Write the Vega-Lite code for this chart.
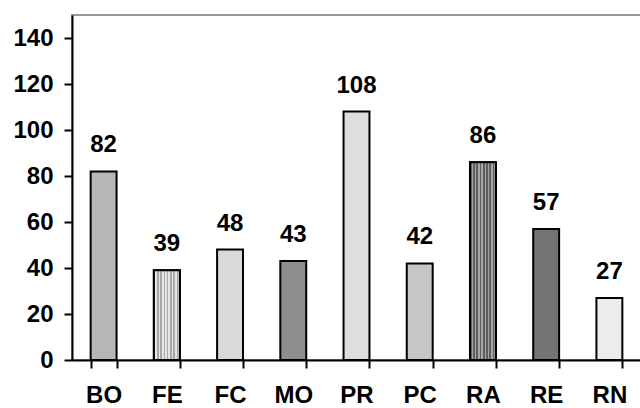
{
  "$schema": "https://vega.github.io/schema/vega-lite/v6.json",
  "autosize": "none",
  "width": 569,
  "height": 345,
  "padding": {"left": 72, "top": 15, "right": 0, "bottom": 48},
  "background": "white",
  "config": {
    "view": {"stroke": "#999999", "strokeWidth": 2},
    "font": "Liberation Sans"
  },
  "data": {
    "values": [
      {"cat": "BO", "value": 82},
      {"cat": "FE", "value": 39},
      {"cat": "FC", "value": 48},
      {"cat": "MO", "value": 43},
      {"cat": "PR", "value": 108},
      {"cat": "PC", "value": 42},
      {"cat": "RA", "value": 86},
      {"cat": "RE", "value": 57},
      {"cat": "RN", "value": 27}
    ]
  },
  "encoding": {
    "x": {
      "field": "cat", "type": "nominal", "sort": null, "title": null,
      "scale": {"paddingInner": 0.59, "paddingOuter": 0.295},
      "axis": {
        "labelAngle": 0, "labelFont": "Liberation Sans", "labelFontSize": 24, "labelFontWeight": "bold",
        "labelColor": "black", "labelPadding": 15, "tickBand": "extent",
        "tickSize": 8, "tickWidth": 2, "tickColor": "black",
        "domainColor": "black", "domainWidth": 2, "grid": false
      }
    },
    "y": {
      "field": "value", "type": "quantitative", "title": null,
      "scale": {"domain": [0, 150], "nice": false},
      "axis": {
        "values": [0, 20, 40, 60, 80, 100, 120, 140],
        "labelFont": "Liberation Sans", "labelFontSize": 24, "labelFontWeight": "bold",
        "labelColor": "black", "labelPadding": 11,
        "tickSize": 8, "tickWidth": 2, "tickColor": "black",
        "domainColor": "black", "domainWidth": 2, "grid": false
      }
    }
  },
  "layer": [
    {
      "mark": {"type": "bar", "stroke": "black", "strokeWidth": 2},
      "encoding": {
        "fill": {
          "field": "cat", "type": "nominal", "sort": null, "legend": null,
          "scale": {
            "domain": ["BO", "FE", "FC", "MO", "PR", "PC", "RA", "RE", "RN"],
            "range": ["#b6b6b6", "#c6c6c6", "#dadada", "#8e8e8e", "#dedede", "#c6c6c6", "#828282", "#747474", "#ececec"]
          }
        }
      }
    },
    {
      "transform": [{"filter": "datum.cat === 'FE'"}],
      "mark": {"type": "bar", "stroke": "black", "strokeWidth": 2,
        "fill": {"gradient": "linear", "x1": 0, "x2": 1, "y1": 0, "y2": 0, "stops": [
          {"offset": 0, "color": "#a8a8a8"}, {"offset": 0.0625, "color": "#a8a8a8"}, {"offset": 0.0625, "color": "#e6e6e6"}, {"offset": 0.125, "color": "#e6e6e6"},
          {"offset": 0.125, "color": "#a8a8a8"}, {"offset": 0.1875, "color": "#a8a8a8"}, {"offset": 0.1875, "color": "#e6e6e6"}, {"offset": 0.25, "color": "#e6e6e6"},
          {"offset": 0.25, "color": "#a8a8a8"}, {"offset": 0.3125, "color": "#a8a8a8"}, {"offset": 0.3125, "color": "#e6e6e6"}, {"offset": 0.375, "color": "#e6e6e6"},
          {"offset": 0.375, "color": "#a8a8a8"}, {"offset": 0.4375, "color": "#a8a8a8"}, {"offset": 0.4375, "color": "#e6e6e6"}, {"offset": 0.5, "color": "#e6e6e6"},
          {"offset": 0.5, "color": "#a8a8a8"}, {"offset": 0.5625, "color": "#a8a8a8"}, {"offset": 0.5625, "color": "#e6e6e6"}, {"offset": 0.625, "color": "#e6e6e6"},
          {"offset": 0.625, "color": "#a8a8a8"}, {"offset": 0.6875, "color": "#a8a8a8"}, {"offset": 0.6875, "color": "#e6e6e6"}, {"offset": 0.75, "color": "#e6e6e6"},
          {"offset": 0.75, "color": "#a8a8a8"}, {"offset": 0.8125, "color": "#a8a8a8"}, {"offset": 0.8125, "color": "#e6e6e6"}, {"offset": 0.875, "color": "#e6e6e6"},
          {"offset": 0.875, "color": "#a8a8a8"}, {"offset": 0.9375, "color": "#a8a8a8"}, {"offset": 0.9375, "color": "#e6e6e6"}, {"offset": 1, "color": "#e6e6e6"}
        ]}
      },
      "encoding": {}
    },
    {
      "transform": [{"filter": "datum.cat === 'RA'"}],
      "mark": {"type": "bar", "stroke": "black", "strokeWidth": 2,
        "fill": {"gradient": "linear", "x1": 0, "x2": 1, "y1": 0, "y2": 0, "stops": [
          {"offset": 0, "color": "#5e5e5e"}, {"offset": 0.0625, "color": "#5e5e5e"}, {"offset": 0.0625, "color": "#a6a6a6"}, {"offset": 0.125, "color": "#a6a6a6"},
          {"offset": 0.125, "color": "#5e5e5e"}, {"offset": 0.1875, "color": "#5e5e5e"}, {"offset": 0.1875, "color": "#a6a6a6"}, {"offset": 0.25, "color": "#a6a6a6"},
          {"offset": 0.25, "color": "#5e5e5e"}, {"offset": 0.3125, "color": "#5e5e5e"}, {"offset": 0.3125, "color": "#a6a6a6"}, {"offset": 0.375, "color": "#a6a6a6"},
          {"offset": 0.375, "color": "#5e5e5e"}, {"offset": 0.4375, "color": "#5e5e5e"}, {"offset": 0.4375, "color": "#a6a6a6"}, {"offset": 0.5, "color": "#a6a6a6"},
          {"offset": 0.5, "color": "#5e5e5e"}, {"offset": 0.5625, "color": "#5e5e5e"}, {"offset": 0.5625, "color": "#a6a6a6"}, {"offset": 0.625, "color": "#a6a6a6"},
          {"offset": 0.625, "color": "#5e5e5e"}, {"offset": 0.6875, "color": "#5e5e5e"}, {"offset": 0.6875, "color": "#a6a6a6"}, {"offset": 0.75, "color": "#a6a6a6"},
          {"offset": 0.75, "color": "#5e5e5e"}, {"offset": 0.8125, "color": "#5e5e5e"}, {"offset": 0.8125, "color": "#a6a6a6"}, {"offset": 0.875, "color": "#a6a6a6"},
          {"offset": 0.875, "color": "#5e5e5e"}, {"offset": 0.9375, "color": "#5e5e5e"}, {"offset": 0.9375, "color": "#a6a6a6"}, {"offset": 1, "color": "#a6a6a6"}
        ]}
      },
      "encoding": {}
    },
    {
      "mark": {"type": "text", "font": "Liberation Sans", "fontSize": 24, "fontWeight": "bold", "baseline": "alphabetic", "dy": -19, "color": "black"},
      "encoding": {"text": {"field": "value", "type": "quantitative"}}
    }
  ]
}
